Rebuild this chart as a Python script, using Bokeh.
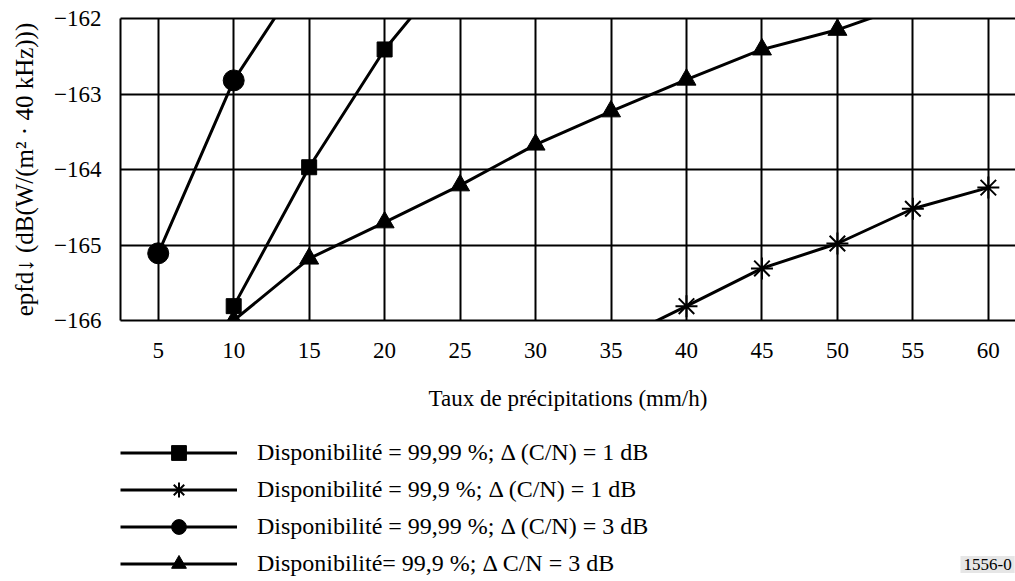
from bokeh.plotting import figure
from bokeh.layouts import column
from bokeh.models import (Legend, LegendItem, Label, FixedTicker, Range1d,
                          CustomJSTickFormatter, LinearAxis)
from bokeh.embed import file_html
from bokeh.resources import INLINE

FONT = "Liberation Serif"

# --- data -------------------------------------------------------------
x_ticks = [5, 10, 15, 20, 25, 30, 35, 40, 45, 50, 55, 60]
y_ticks = [-166, -165, -164, -163, -162]

# Disponibilité = 99,99 %; Δ (C/N) = 1 dB  (squares)
s1_x = [10, 15, 20, 25]
s1_y = [-165.81, -163.97, -162.41, -161.2]
# Disponibilité = 99,9 %; Δ (C/N) = 1 dB  (asterisks)
s2_x = [35, 40, 45, 50, 55, 60]
s2_y = [-166.3, -165.81, -165.31, -164.98, -164.52, -164.24]
# Disponibilité = 99,99 %; Δ (C/N) = 3 dB  (circles)
s3_x = [5, 10, 15]
s3_y = [-165.11, -162.82, -161.3]
# Disponibilité = 99,9 %; Δ C/N = 3 dB  (triangles)
s4_x = [10, 15, 20, 25, 30, 35, 40, 45, 50, 55]
s4_y = [-166.0, -165.18, -164.70, -164.21, -163.67, -163.23, -162.81,
        -162.41, -162.15, -161.8]

labels = [
    "Disponibilité = 99,99 %; Δ (C/N) = 1 dB",
    "Disponibilité = 99,9 %; Δ (C/N) = 1 dB",
    "Disponibilité = 99,99 %; Δ (C/N) = 3 dB",
    "Disponibilité= 99,9 %; Δ C/N = 3 dB",
]
x_title = "Taux de précipitations (mm/h)"
y_title = "epfd↓ (dB(W/(m² · 40 kHz)))"
fig_id = "1556-0"

series = [
    (s1_x, s1_y, dict(marker="square", size=15, color="black")),
    (s2_x, s2_y, dict(marker="asterisk", size=22, line_color="black", line_width=2)),
    (s3_x, s3_y, dict(marker="circle", size=21, color="black")),
    (s4_x, s4_y, dict(marker="triangle", size=19, color="black")),
]
LW = 3

# --- main chart -------------------------------------------------------
p = figure(width=1015, height=420, output_backend="svg", toolbar_location=None,
           x_range=Range1d(2.5, 61.8), y_range=Range1d(-166, -162),
           min_border_left=120, min_border_right=0, min_border_top=18,
           min_border_bottom=100)
p.outline_line_color = None

p.xaxis.ticker = FixedTicker(ticks=x_ticks)
p.yaxis.ticker = FixedTicker(ticks=y_ticks)
p.xgrid.ticker = FixedTicker(ticks=x_ticks)
p.ygrid.ticker = FixedTicker(ticks=y_ticks)
for g in (p.xgrid, p.ygrid):
    g.grid_line_color = "black"
    g.grid_line_width = 2
    g.grid_line_alpha = 1

p.yaxis.formatter = CustomJSTickFormatter(
    code="return tick < 0 ? '\u2212' + Math.abs(tick) : '' + tick;")

for ax in (p.xaxis, p.yaxis):
    ax.axis_line_color = "black"
    ax.axis_line_width = 2
    ax.major_tick_out = 0
    ax.major_tick_in = 0
    ax.minor_tick_out = 0
    ax.minor_tick_in = 0
    ax.major_label_text_font = FONT
    ax.major_label_text_font_size = "23px"
    ax.major_label_text_color = "black"
    ax.axis_label_text_font = FONT
    ax.axis_label_text_font_size = "23px"
    ax.axis_label_text_font_style = "normal"
    ax.axis_label_text_color = "black"

p.xaxis.axis_label = x_title
p.yaxis.axis_label = y_title
p.yaxis.axis_label_text_font_size = "25px"
p.xaxis.major_label_standoff = 22
p.xaxis.axis_label_standoff = 25
p.yaxis.major_label_standoff = 19
p.yaxis.axis_label_standoff = 13

top = LinearAxis(axis_line_color="black", axis_line_width=2,
                 ticker=FixedTicker(ticks=[]),
                 major_tick_out=0, major_tick_in=0, minor_tick_out=0,
                 minor_tick_in=0, major_label_standoff=0)
p.add_layout(top, "above")

for xs, ys, mk in series:
    p.line(xs, ys, line_color="black", line_width=LW)
    p.scatter(xs, ys, **mk)

# --- legend strip (same series, out of view; only their legend is seen) --
q = figure(width=1015, height=161, output_backend="svg", toolbar_location=None,
           x_range=Range1d(0, 1), y_range=Range1d(0, 1),
           x_axis_type=None, y_axis_type=None,
           min_border_left=0, min_border_right=0, min_border_top=0,
           min_border_bottom=0)
q.outline_line_color = None
q.xgrid.visible = False
q.ygrid.visible = False

items = []
for (xs, ys, mk), lab in zip(series, labels):
    rl = q.line(xs, ys, line_color="black", line_width=LW)
    rm = q.scatter(xs, ys, **mk)
    items.append(LegendItem(label=lab, renderers=[rl, rm]))

legend = Legend(items=items, location=(0, -1))
legend.background_fill_alpha = 0
legend.border_line_color = None
legend.padding = 0
legend.margin = 0
legend.glyph_width = 117
legend.glyph_height = 37
legend.label_height = 37
legend.spacing = 0
legend.label_standoff = 20
legend.label_text_font = FONT
legend.label_text_font_size = "24px"
legend.label_text_color = "black"
q.add_layout(legend)

tag = Label(x=840, y=17, x_units="screen", y_units="screen", text=fig_id,
            text_font=FONT, text_font_size="17px", text_color="black",
            text_baseline="middle", background_fill_color="#e6e6e6",
            padding=3)
q.add_layout(tag)

layout = column(p, q, spacing=0)
open("out.html", "w").write(file_html(layout, INLINE))
